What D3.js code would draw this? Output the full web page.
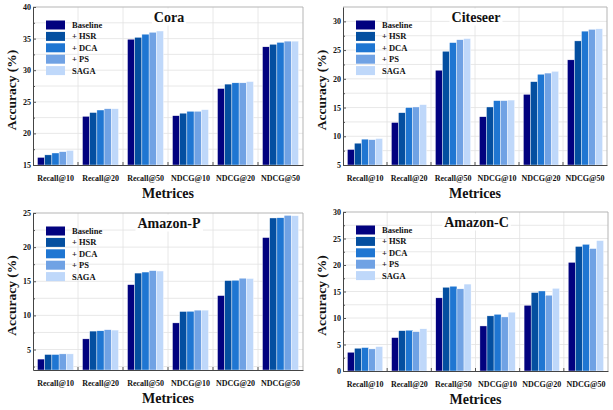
<!DOCTYPE html>
<html lang="en">
<head>
<meta charset="UTF-8">
<title>Ablation accuracy</title>
<script src="https://d3js.org/d3.v7.min.js"></script>
<style>
    body { margin: 0; background: #fff; }
    svg { display: block; }
    text { font-family: "Liberation Serif", "Times New Roman", serif; font-weight: bold; fill: #111; }
    .tick text { font-family: "Liberation Serif", "Times New Roman", serif; font-weight: bold; fill: #111; }
</style>
</head>
<body>
<svg id="chart" width="613" height="410"></svg>
<script>
    // categories and series
    const metrics = ["Recall@10", "Recall@20", "Recall@50", "NDCG@10", "NDCG@20", "NDCG@50"];
    const methods = ["Baseline", "+ HSR", "+ DCA", "+ PS", "SAGA"];
    const colors = ["#02027f", "#044fa0", "#1f76d2", "#70a2e4", "#bfd8fa"];

    // values per metric, one entry per method
    const coraValues = [
        [16.2, 16.6, 16.9, 17.1, 17.3],
        [22.7, 23.3, 23.7, 23.9, 23.9],
        [34.9, 35.2, 35.7, 36.0, 36.2],
        [22.8, 23.2, 23.5, 23.5, 23.75],
        [27.1, 27.8, 28.0, 28.0, 28.2],
        [33.7, 34.1, 34.4, 34.6, 34.6]
    ];
    const citeseerValues = [
        [7.7, 8.8, 9.5, 9.4, 9.6],
        [12.4, 14.1, 15.0, 15.1, 15.5],
        [21.5, 24.8, 26.3, 26.8, 27.0],
        [13.4, 15.1, 16.2, 16.2, 16.3],
        [17.3, 19.5, 20.8, 21.0, 21.3],
        [23.3, 26.6, 28.3, 28.6, 28.7]
    ];
    const amazonPValues = [
        [3.6, 4.27, 4.27, 4.36, 4.36],
        [6.56, 7.7, 7.74, 7.9, 7.85],
        [14.5, 16.2, 16.35, 16.55, 16.5],
        [8.9, 10.57, 10.6, 10.77, 10.77],
        [12.9, 15.1, 15.15, 15.45, 15.4],
        [21.4, 24.27, 24.3, 24.65, 24.6]
    ];
    const amazonCValues = [
        [3.54, 4.3, 4.42, 4.17, 4.6],
        [6.3, 7.6, 7.7, 7.4, 7.96],
        [13.8, 15.8, 16.0, 15.5, 16.4],
        [8.5, 10.4, 10.7, 10.2, 11.1],
        [12.4, 14.8, 15.1, 14.3, 15.6],
        [20.5, 23.5, 23.9, 23.1, 24.6]
    ];

    const panels = [
        { title: "Cora", values: coraValues, domain: [15, 40], ticks: [15, 20, 25, 30, 35, 40], left: 33, right: 303, top: 7, bottom: 165 },
        { title: "Citeseer", values: citeseerValues, domain: [5, 32.5], ticks: [5, 10, 15, 20, 25, 30], left: 343, right: 607, top: 7, bottom: 165 },
        { title: "Amazon-P", values: amazonPValues, domain: [2, 25], ticks: [5, 10, 15, 20, 25], left: 33, right: 303, top: 213, bottom: 370 },
        { title: "Amazon-C", values: amazonCValues, domain: [0, 30], ticks: [0, 5, 10, 15, 20, 25, 30], left: 343, right: 608, top: 212, bottom: 371 }
    ];

    const svg = d3.select("#chart");

    panels.forEach(p => {
        const g = svg.append("g");
        const x = d3.scaleBand().domain(metrics).range([p.left, p.right]);
        const xi = d3.scaleBand().domain(methods).range([0, x.bandwidth()]).paddingOuter(0.625);
        const y = d3.scaleLinear().domain(p.domain).range([p.bottom, p.top]);

        // grid: every 2.5 horizontally, category boundaries vertically
        const gridVals = d3.range(Math.ceil(p.domain[0] / 2.5) * 2.5, p.domain[1], 2.5)
            .filter(v => v > p.domain[0]);
        g.selectAll(".hgrid").data(gridVals).join("line")
            .attr("x1", p.left).attr("x2", p.right)
            .attr("y1", d => y(d)).attr("y2", d => y(d))
            .attr("stroke", "#e2e2e2").attr("stroke-width", 0.8);
        g.selectAll(".vgrid").data(metrics.slice(1)).join("line")
            .attr("x1", d => x(d)).attr("x2", d => x(d))
            .attr("y1", p.top).attr("y2", p.bottom)
            .attr("stroke", "#e2e2e2").attr("stroke-width", 0.8);

        // bars
        metrics.forEach((m, i) => {
            g.append("g").selectAll("rect").data(p.values[i]).join("rect")
                .attr("x", (d, j) => x(m) + xi(methods[j]))
                .attr("width", xi.bandwidth())
                .attr("y", d => y(d))
                .attr("height", d => p.bottom - y(d))
                .attr("fill", (d, j) => colors[j])
                .attr("stroke", "#fff").attr("stroke-width", 0.4);
        });

        // top and right frame
        g.append("path")
            .attr("d", `M${p.left},${p.top}H${p.right}V${p.bottom}`)
            .attr("fill", "none").attr("stroke", "#b5b5b5").attr("stroke-width", 1);

        // y axis with inward ticks
        const minor = gridVals.filter(v => !p.ticks.includes(v));
        g.append("g").attr("transform", `translate(${p.left},0)`)
            .call(d3.axisLeft(y).tickValues(minor).tickSize(-2).tickFormat(""))
            .call(a => a.select(".domain").remove())
            .selectAll("line").attr("stroke", "#555");
        const ya = g.append("g").attr("transform", `translate(${p.left},0)`)
            .call(d3.axisLeft(y).tickValues(p.ticks).tickSizeInner(-3).tickSizeOuter(0).tickPadding(2));
        ya.select(".domain").attr("stroke", "#444");
        ya.selectAll("line").attr("stroke", "#555");
        ya.selectAll("text").attr("font-size", 8);

        // x axis: labels centred in bands, ticks at boundaries
        const xa = g.append("g").attr("transform", `translate(0,${p.bottom})`)
            .call(d3.axisBottom(x).tickSize(0).tickPadding(10));
        xa.select(".domain").attr("stroke", "#444");
        xa.selectAll("text").attr("font-size", 8);
        g.selectAll(".xtick").data(metrics.slice(1)).join("line")
            .attr("x1", d => x(d)).attr("x2", d => x(d))
            .attr("y1", p.bottom).attr("y2", p.bottom - 3)
            .attr("stroke", "#555");

        // axis titles
        g.append("text")
            .attr("x", (p.left + p.right) / 2).attr("y", p.bottom + 33)
            .attr("text-anchor", "middle").attr("font-size", 14)
            .text("Metrices");
        g.append("text")
            .attr("transform", `translate(${p.left - 21.5},${(p.top + p.bottom) / 2 + 4}) rotate(-90)`)
            .attr("text-anchor", "middle").attr("dominant-baseline", "central")
            .attr("font-size", 13.5)
            .text("Accuracy (%)");

        // title with white box
        const tg = g.append("g");
        const tt = tg.append("text")
            .attr("x", (p.left + p.right) / 2 + 1).attr("y", p.top + 14.5)
            .attr("text-anchor", "middle").attr("font-size", 14)
            .text(p.title);
        const bb = tt.node().getBBox();
        tg.insert("rect", "text")
            .attr("x", bb.x - 2).attr("y", bb.y - 1)
            .attr("width", bb.width + 4).attr("height", bb.height + 2)
            .attr("fill", "#fff");

        // legend
        const lg = g.append("g").attr("transform", `translate(${p.left + 13},${p.top + 18})`);
        methods.forEach((name, j) => {
            lg.append("rect")
                .attr("x", 0).attr("y", j * 11.4 - 4.5)
                .attr("width", 19).attr("height", 9)
                .attr("fill", colors[j]);
            lg.append("text")
                .attr("x", 26).attr("y", j * 11.4)
                .attr("dominant-baseline", "central")
                .attr("font-size", 8.5)
                .text(name);
        });
    });
</script>
</body>
</html>
